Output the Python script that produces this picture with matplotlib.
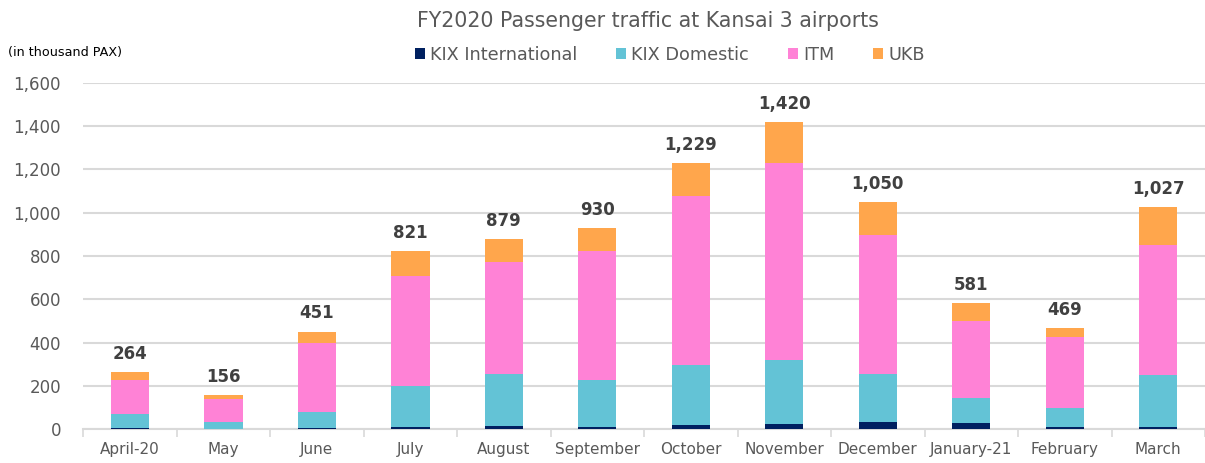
import matplotlib.pyplot as plt
import numpy as np

plt.rcParams['font.family'] = ['DejaVu Sans']

months = ["April-20", "May", "June", "July", "August", "September", "October",
          "November", "December", "January-21", "February", "March"]
kix_int = [6, 3, 5, 8, 13, 12, 18, 23, 32, 28, 8, 12]
kix_dom = [64, 31, 75, 192, 244, 214, 277, 298, 225, 116, 90, 237]
itm = [159, 104, 318, 508, 516, 595, 784, 910, 642, 354, 326, 602]
ukb = [35, 18, 53, 113, 106, 109, 150, 189, 151, 83, 45, 176]
totals = [264, 156, 451, 821, 879, 930, 1229, 1420, 1050, 581, 469, 1027]

series = [("KIX International", kix_int, "#002060"),
          ("KIX Domestic", kix_dom, "#63C3D6"),
          ("ITM", itm, "#FF82D6"),
          ("UKB", ukb, "#FFA64C")]

fig = plt.figure(figsize=(12.05, 4.63), dpi=100)
ax = fig.add_axes([0.069, 0.073, 0.931, 0.748])

x = np.arange(len(months))
bottom = np.zeros(len(months))
for name, vals, col in series:
    ax.bar(x, vals, 0.41, bottom=bottom, color=col, label=name, zorder=3)
    bottom += np.array(vals)

# total labels above bars
for xi, t in zip(x, totals):
    ax.text(xi, t + 42, f"{t:,}", ha="center", va="bottom", fontsize=12,
            fontweight="bold", color="#404040")

ax.set_xlim(-0.5, len(months) - 0.5)
ax.set_ylim(0, 1600)
ax.set_yticks(range(0, 1601, 200))
ax.set_yticklabels([f"{v:,}" for v in range(0, 1601, 200)])
ax.yaxis.grid(True, color="#D9D9D9", linewidth=1.5, zorder=0)
ax.set_axisbelow(True)
ax.set_xticks(x)
ax.set_xticklabels(months)
ax.set_xticks(np.arange(-0.5, len(months), 1), minor=True)
ax.tick_params(axis="x", which="major", length=0, pad=9, labelsize=11, labelcolor="#595959")
ax.tick_params(axis="x", which="minor", length=6, width=1.2, color="#D9D9D9")
ax.tick_params(axis="y", length=0, pad=16, labelsize=12, labelcolor="#595959")
for s in ["left", "right", "top"]:
    ax.spines[s].set_visible(False)
ax.spines["bottom"].set_color("#D9D9D9")
ax.spines["bottom"].set_linewidth(1.5)

fig.text(0.5375, 0.955, "FY2020 Passenger traffic at Kansai 3 airports", ha="center",
         va="center", fontsize=14.8, color="#595959")
fig.text(0.007, 0.887, "(in thousand PAX)", ha="left", va="center", fontsize=9.2,
         color="#000000", family="Liberation Sans Narrow")
fig.legend(loc="center", bbox_to_anchor=(0.556, 0.882), ncol=4, frameon=False,
           fontsize=12.7, handlelength=0.55, handleheight=0.55, handletextpad=0.3,
           columnspacing=2.2, labelcolor="#595959")

fig.savefig("out.png", dpi=100)
